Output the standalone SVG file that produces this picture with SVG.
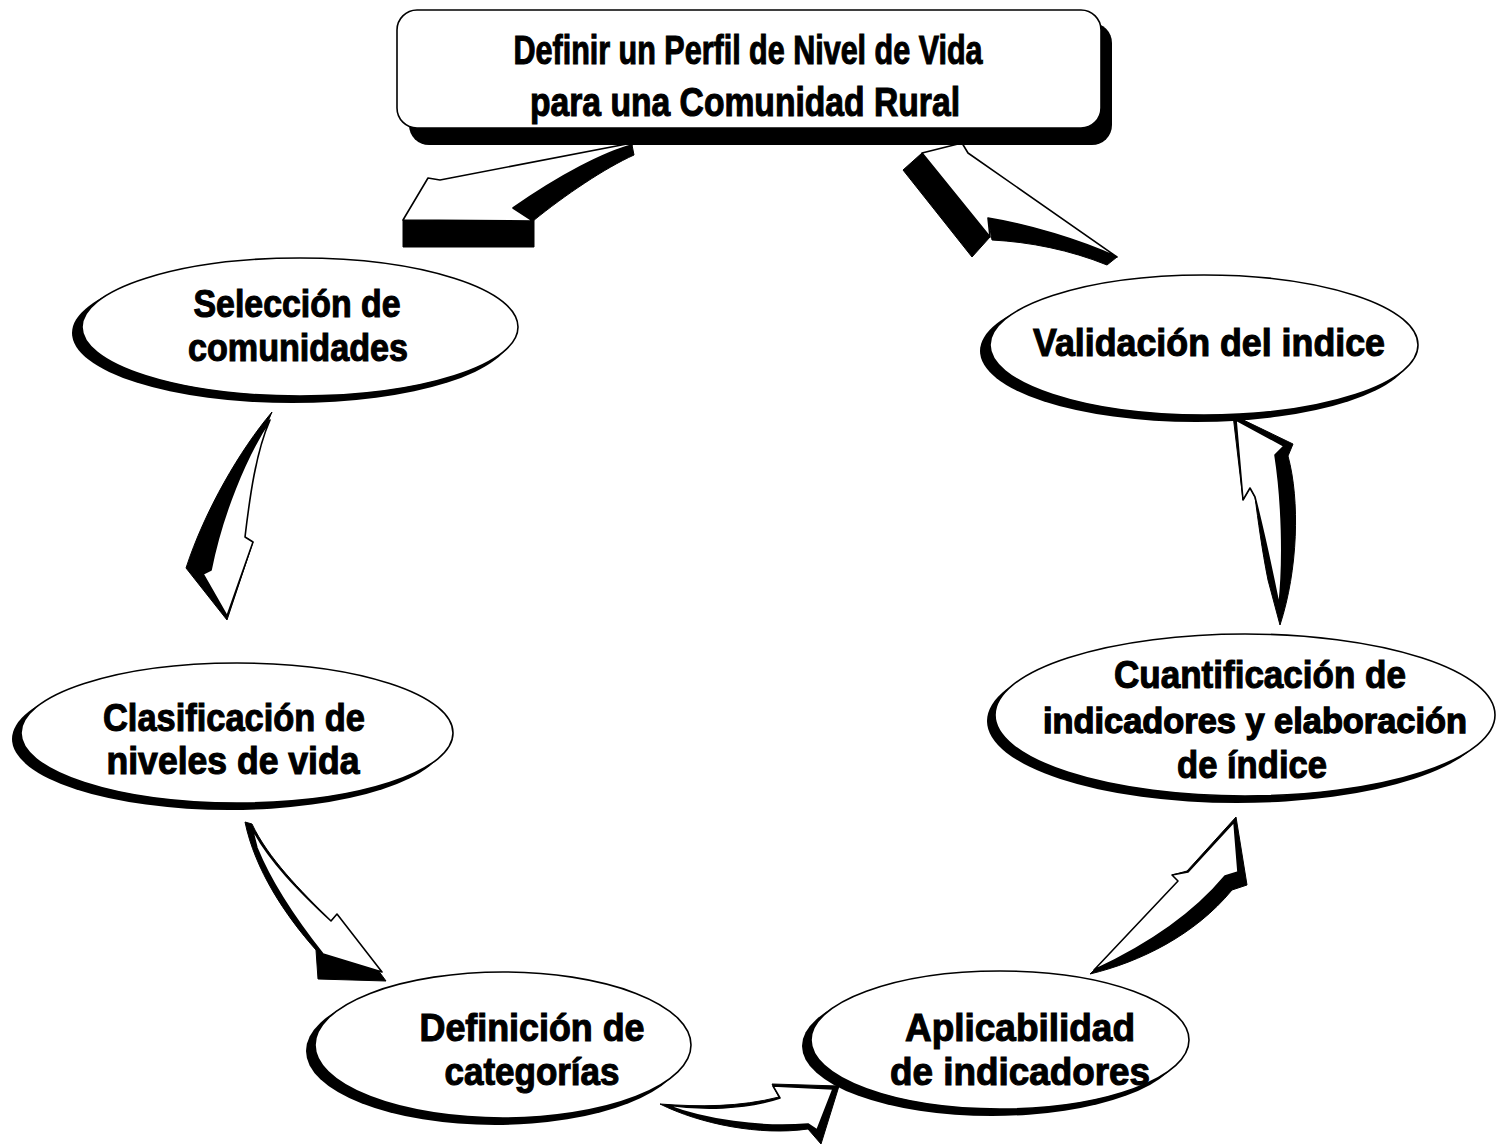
<svg xmlns="http://www.w3.org/2000/svg" width="1498" height="1148" viewBox="0 0 1498 1148">
<style>
.t{font-family:"Liberation Sans",Arial,sans-serif;font-weight:bold;font-size:38px;fill:#000;text-anchor:middle;stroke:#000;stroke-width:1.1;}
.tb{font-size:40px;}
.ts{font-size:35px;stroke-width:1.3;}
.face{fill:#fff;stroke:#000;stroke-width:1.6;stroke-linejoin:round;}
.blk{fill:#000;stroke:#000;stroke-width:1;stroke-linejoin:round;}
</style>
<rect width="1498" height="1148" fill="#fff"/>

<g id="connectors">
  <!-- box -> Selección -->
  <g id="a1">
    <path class="blk" d="M632,145 C605,152 560,175 513,208 L533,221 C565,195 605,168 634,155 Z"/>
    <rect class="blk" x="403" y="220" width="131" height="27"/>
    <path class="face" d="M632,143 L440,180 L428,178 L403,220 L533,221 L513,208 C560,175 605,152 632,145 Z"/>
  </g>
  <!-- Selección -> Clasificación -->
  <g id="a3">
    <path class="blk" d="M272,412 C240,450 205,510 186,568 L227,620 L253,542 L245,537 C248,490 255,450 272,412 Z"/>
    <path class="face" d="M270,420 C256,452 250,495 245,537 L253,542 L227,616 L203,574 L211,570 C222,515 245,458 270,420 Z"/>
  </g>
  <!-- Clasificación -> Definición -->
  <g id="a4">
    <path class="blk" d="M245,822 C255,870 285,915 316,950 L318,979 L386,981 L337,914 L331,921 C300,890 268,858 252,824 Z"/>
    <path class="face" d="M252,828 C268,860 300,892 331,921 L337,914 L382,972 L323,954 C300,925 272,885 257,848 Z"/>
  </g>
  <!-- Definición -> Aplicabilidad -->
  <g id="a7">
    <path class="blk" d="M660,1104 C700,1124 760,1136 808,1129 L821,1144 L839,1086 L772,1084 L779,1097 C740,1107 700,1107 660,1104 Z"/>
    <path class="face" d="M666,1105 C700,1110 745,1110 780,1098 L773,1086 L833,1089 L817,1130 L808,1124 C760,1128 705,1120 666,1105 Z"/>
  </g>
  <!-- Aplicabilidad -> Cuantificación -->
  <g id="a5">
    <path class="blk" d="M1090,974 C1140,962 1195,935 1232,890 L1247,885 L1236,817 L1187,871 L1172,875 L1178,881 C1150,915 1115,950 1090,974 Z"/>
    <path class="face" d="M1094,970 L1178,881 L1172,875 L1188,872 L1234,822 L1238,872 L1225,876 C1195,912 1150,944 1094,970 Z"/>
  </g>
  <!-- Cuantificación -> Validación -->
  <g id="a6">
    <path class="blk" d="M1233,415 L1293,444 L1288,456 C1300,500 1298,570 1280,625 L1268,580 C1262,550 1258,520 1255,497 L1250,488 L1243,500 Z"/>
    <path class="face" d="M1236,420 L1284,446 L1275,455 C1282,500 1284,560 1279,605 C1270,560 1262,525 1255,497 L1250,488 L1243,500 Z"/>
  </g>
  <!-- Validación -> box -->
  <g id="a2">
    <path class="blk" d="M903,170 L922,153 L990,237 L972,257 Z"/>
    <path class="blk" d="M988,218 C1030,225 1080,240 1117,257 L1107,265 C1070,250 1030,242 992,240 Z"/>
    <path class="face" d="M922,153 L962,143 L968,153 L1117,257 C1080,240 1030,225 988,218 L990,237 Z"/>
  </g>
</g>

<g id="n0">
  <rect x="409" y="23" width="703" height="122" rx="20" fill="#000"/>
  <rect class="face" x="397" y="10" width="704" height="118" rx="20"/>
  <text class="t tb" x="748" y="64" textLength="469" lengthAdjust="spacingAndGlyphs">Definir un Perfil de Nivel de Vida</text>
  <text class="t tb" x="745" y="116" textLength="430" lengthAdjust="spacingAndGlyphs">para una Comunidad Rural</text>
</g>

<g id="n1">
  <ellipse cx="292" cy="333" rx="220" ry="70" fill="#000"/>
  <ellipse class="face" cx="300" cy="327" rx="218" ry="69"/>
  <text class="t" x="297" y="317" textLength="207" lengthAdjust="spacingAndGlyphs">Selección de</text>
  <text class="t" x="298" y="361" textLength="220" lengthAdjust="spacingAndGlyphs">comunidades</text>
</g>

<g id="n6">
  <ellipse cx="1196" cy="351" rx="216" ry="71" fill="#000"/>
  <ellipse class="face" cx="1204" cy="345" rx="214" ry="70"/>
  <text class="t" x="1209" y="356" textLength="352" lengthAdjust="spacingAndGlyphs">Validación del indice</text>
</g>

<g id="n2">
  <ellipse cx="229" cy="739" rx="217" ry="71" fill="#000"/>
  <ellipse class="face" cx="237" cy="733" rx="216" ry="70"/>
  <text class="t" x="234" y="731" textLength="262" lengthAdjust="spacingAndGlyphs">Clasificación de</text>
  <text class="t" x="233" y="774" textLength="253" lengthAdjust="spacingAndGlyphs">niveles de vida</text>
</g>

<g id="n5">
  <ellipse cx="1237" cy="721" rx="250" ry="82" fill="#000"/>
  <ellipse class="face" cx="1245" cy="715" rx="250" ry="81"/>
  <text class="t" x="1260" y="688" textLength="292" lengthAdjust="spacingAndGlyphs">Cuantificación de</text>
  <text class="t ts" x="1255" y="733" textLength="424" lengthAdjust="spacingAndGlyphs">indicadores y elaboración</text>
  <text class="t" x="1252" y="778" textLength="150" lengthAdjust="spacingAndGlyphs">de índice</text>
</g>

<g id="n3">
  <ellipse cx="495" cy="1051" rx="189" ry="74" fill="#000"/>
  <ellipse class="face" cx="503" cy="1045" rx="188" ry="73"/>
  <text class="t" x="532" y="1041" textLength="225" lengthAdjust="spacingAndGlyphs">Definición de</text>
  <text class="t" x="532" y="1085" textLength="175" lengthAdjust="spacingAndGlyphs">categorías</text>
</g>

<g id="n4">
  <ellipse cx="992" cy="1046" rx="190" ry="70" fill="#000"/>
  <ellipse class="face" cx="1000" cy="1040" rx="189" ry="69"/>
  <text class="t" x="1020" y="1041" textLength="230" lengthAdjust="spacingAndGlyphs">Aplicabilidad</text>
  <text class="t" x="1020" y="1085" textLength="260" lengthAdjust="spacingAndGlyphs">de indicadores</text>
</g>
</svg>
